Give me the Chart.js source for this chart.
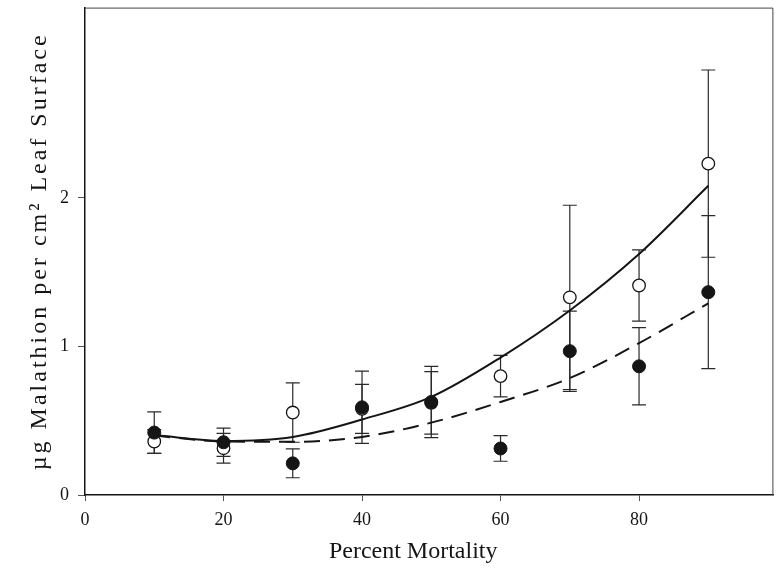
<!DOCTYPE html>
<html>
<head>
<meta charset="utf-8">
<script src="https://cdn.jsdelivr.net/npm/chart.js@4/dist/chart.umd.min.js"></script>
<style>
  html, body { margin: 0; padding: 0; background: #fff; }
  #wrap { width: 781px; height: 570px; position: relative; }
</style>
</head>
<body>
<div id="wrap"><canvas id="grafica"></canvas></div>
<script>
// ---- datos ----
const mortality = [10, 20, 30, 40, 50, 60, 70, 80, 90];

// circulos abiertos
const openMean = [0.36, 0.315, 0.555, 0.58, 0.62, 0.80, 1.33, 1.41, 2.23];
const openErr  = [0.08, 0.10, 0.20, 0.165, 0.21, 0.14, 0.62, 0.24, 0.63];

// circulos rellenos
const filledMean = [0.42, 0.355, 0.213, 0.59, 0.626, 0.313, 0.968, 0.866, 1.365];
const filledErr  = [0.14, 0.095, 0.097, 0.243, 0.24, 0.086, 0.27, 0.26, 0.515];

// curvas de ajuste
const fitX      = [10, 20, 30, 40, 50, 60, 70, 80, 90];
const solidFit  = [0.403, 0.364, 0.391, 0.508, 0.66, 0.925, 1.242, 1.622, 2.081];
const dashedFit = [0.40, 0.36, 0.358, 0.391, 0.487, 0.626, 0.787, 1.022, 1.29];

const xTicks = [0, 20, 40, 60, 80];
const yTicks = [0, 1, 2];
const xTitle = 'Percent Mortality';
const yTitle = 'µg Malathion per cm² Leaf Surface';

function puntos(xs, ys) {
  return xs.map((x, i) => ({ x: x, y: ys[i] }));
}

const ink = '#151515';
const serif = 'Liberation Serif, "Times New Roman", serif';

function sinPadding(s) {
  s.paddingTop = 0;
  s.paddingBottom = 0;
  s.paddingLeft = 0;
  s.paddingRight = 0;
}

// envuelve drawTitle de un eje para ajustar espaciado y posicion
function ajustarTitulo(s, espaciado, dx) {
  if (!s || s._ajustado) return;
  const orig = s.drawTitle.bind(s);
  s.drawTitle = function () {
    s.ctx.save();
    s.ctx.letterSpacing = espaciado;
    s.ctx.translate(dx, 0);
    orig();
    s.ctx.restore();
  };
  s._ajustado = true;
}

// barras de error y marco
const errorBars = {
  id: 'errorBars',
  beforeDatasetsDraw(chart) {
    const { ctx, chartArea, scales: { x, y } } = chart;
    ctx.save();
    // marco superior y derecho
    ctx.strokeStyle = '#444';
    ctx.lineWidth = 1;
    ctx.beginPath();
    ctx.moveTo(chartArea.left, chartArea.top + 0.5);
    ctx.lineTo(chartArea.right - 0.5, chartArea.top + 0.5);
    ctx.lineTo(chartArea.right - 0.5, chartArea.bottom);
    ctx.stroke();

    ctx.strokeStyle = '#2a2a2a';
    ctx.lineWidth = 1.2;
    const series = [[openMean, openErr], [filledMean, filledErr]];
    series.forEach(([m, e]) => {
      mortality.forEach((xv, i) => {
        const px = x.getPixelForValue(xv);
        const top = y.getPixelForValue(m[i] + e[i]);
        const bot = y.getPixelForValue(m[i] - e[i]);
        ctx.beginPath();
        ctx.moveTo(px, top);
        ctx.lineTo(px, bot);
        ctx.moveTo(px - 7, top);
        ctx.lineTo(px + 7, top);
        ctx.moveTo(px - 7, bot);
        ctx.lineTo(px + 7, bot);
        ctx.stroke();
      });
    });
    ctx.restore();
  },
  afterUpdate(chart) {
    ajustarTitulo(chart.scales.y, '3px', 0);
    ajustarTitulo(chart.scales.x, '0px', -16);
  }
};

const ctx = document.getElementById('grafica').getContext('2d');
new Chart(ctx, {
  type: 'scatter',
  data: {
    datasets: [
      {
        label: 'rellenos',
        data: puntos(mortality, filledMean),
        pointStyle: 'circle',
        pointRadius: 6.5,
        pointBackgroundColor: ink,
        pointBorderColor: ink,
        pointBorderWidth: 1,
        showLine: false
      },
      {
        label: 'abiertos',
        data: puntos(mortality, openMean),
        pointStyle: 'circle',
        pointRadius: 6.3,
        pointBackgroundColor: '#fff',
        pointBorderColor: ink,
        pointBorderWidth: 1.3,
        showLine: false
      },
      {
        label: 'ajuste abiertos',
        data: puntos(fitX, solidFit),
        showLine: true,
        borderColor: ink,
        borderWidth: 2,
        pointRadius: 0,
        cubicInterpolationMode: 'monotone'
      },
      {
        label: 'ajuste rellenos',
        data: puntos(fitX, dashedFit),
        showLine: true,
        borderColor: ink,
        borderWidth: 2,
        borderDash: [16, 9],
        pointRadius: 0,
        cubicInterpolationMode: 'monotone'
      }
    ]
  },
  options: {
    responsive: true,
    maintainAspectRatio: false,
    animation: false,
    layout: { padding: { top: 6, right: 0, left: 0, bottom: 0 } },
    plugins: {
      legend: { display: false },
      tooltip: { enabled: false }
    },
    scales: {
      x: {
        type: 'linear',
        min: 0,
        max: 99.4,
        afterBuildTicks: s => { s.ticks = xTicks.map(v => ({ value: v })); },
        afterFit: s => { s.height = 75; sinPadding(s); },
        grid: { drawOnChartArea: false, drawTicks: true, tickLength: 6, color: '#555' },
        border: { display: true, color: ink, width: 1.5 },
        ticks: { color: ink, padding: 8, maxRotation: 0, font: { family: serif, size: 18 } },
        title: {
          display: true,
          text: xTitle,
          color: ink,
          padding: { top: 0, bottom: 4 },
          font: { family: serif, size: 24 }
        }
      },
      y: {
        type: 'linear',
        min: 0,
        max: 3.28,
        afterBuildTicks: s => { s.ticks = yTicks.map(v => ({ value: v })); },
        afterFit: s => { s.width = 85; sinPadding(s); },
        grid: { drawOnChartArea: false, drawTicks: true, tickLength: 7, color: '#555' },
        border: { display: true, color: ink, width: 1.5 },
        ticks: { color: ink, padding: 9, font: { family: serif, size: 18 } },
        title: {
          display: true,
          text: yTitle,
          color: ink,
          padding: { top: 25, bottom: 0 },
          font: { family: serif, size: 24 }
        }
      }
    }
  },
  plugins: [errorBars]
});
</script>
</body>
</html>
